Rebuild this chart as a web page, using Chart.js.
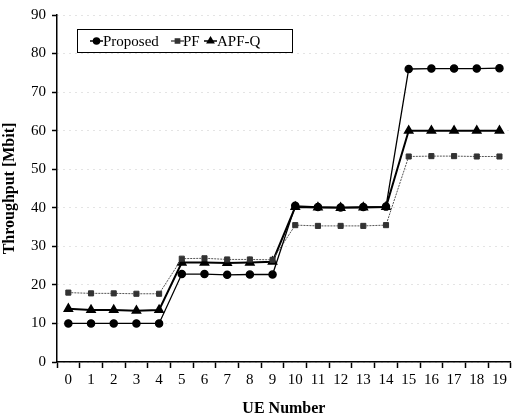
<!DOCTYPE html>
<html lang="en">
<head>
<meta charset="UTF-8">
<title>Throughput vs UE Number</title>
<script src="https://cdn.jsdelivr.net/npm/chart.js"></script>
<style>
    html, body { margin: 0; padding: 0; background: #fff; }
    #wrap { position: relative; width: 517px; height: 418px; }
</style>
</head>
<body>
<div id="wrap"><canvas id="chart" width="517" height="418"></canvas></div>
<script>
    // datos
    const ueNumbers = ['0','1','2','3','4','5','6','7','8','9','10','11','12','13','14','15','16','17','18','19'];
    const proposed = [10, 10, 10, 10, 10, 22.8, 22.8, 22.6, 22.7, 22.7, 40.5, 40.2, 40.1, 40.2, 40.3, 76, 76.1, 76.1, 76.1, 76.2];
    const pf = [18, 17.8, 17.8, 17.7, 17.7, 26.8, 26.9, 26.6, 26.6, 26.5, 35.5, 35.3, 35.3, 35.3, 35.5, 53.3, 53.4, 53.4, 53.3, 53.3];
    const apfq = [13.8, 13.5, 13.5, 13.3, 13.5, 25.8, 25.8, 25.7, 25.8, 26, 40.2, 40.1, 40, 40.1, 40.2, 60, 60, 60, 60, 60];
    const yTicks = [0, 10, 20, 30, 40, 50, 60, 70, 80, 90];

    const serif = '"Liberation Serif", "DejaVu Serif", serif';

    // leyenda dibujada dentro del area del grafico
    const boxLegend = {
        id: 'boxLegend',
        afterDraw(chart) {
            const ctx = chart.ctx;
            const x0 = 77, y0 = 29, w = 215, h = 23;
            const cy = y0 + h / 2 + 0.5;
            ctx.save();
            ctx.fillStyle = '#fff';
            ctx.fillRect(x0, y0, w, h);
            ctx.strokeStyle = '#000';
            ctx.lineWidth = 1;
            ctx.strokeRect(x0 + 0.5, y0 + 0.5, w, h);
            ctx.font = '15px ' + serif;
            ctx.textBaseline = 'middle';
            const items = [
                { lx: 90, tx: 103, text: 'Proposed', ds: 0 },
                { lx: 171, tx: 183, text: 'PF', ds: 1 },
                { lx: 204, tx: 217, text: 'APF-Q', ds: 2 }
            ];
            items.forEach(it => {
                const ds = chart.data.datasets[it.ds];
                ctx.beginPath();
                ctx.strokeStyle = ds.borderColor;
                ctx.lineWidth = 1.5;
                ctx.setLineDash([]);
                ctx.moveTo(it.lx, cy);
                ctx.lineTo(it.lx + 13, cy);
                ctx.stroke();
                ctx.fillStyle = ds.pointBackgroundColor;
                ctx.strokeStyle = ds.pointBorderColor;
                Chart.helpers.drawPoint(ctx, {
                    pointStyle: ds.pointStyle,
                    radius: ds.pointRadius - 0.6,
                    rotation: 0,
                    borderWidth: 1
                }, it.lx + 6.5, cy);
                ctx.fillStyle = '#000';
                ctx.fillText(it.text, it.tx, cy + 1);
            });
            ctx.restore();
        }
    };

    new Chart(document.getElementById('chart'), {
        type: 'line',
        data: {
            labels: ueNumbers,
            datasets: [
                {
                    label: 'Proposed',
                    data: proposed,
                    borderColor: '#000',
                    borderWidth: 1.3,
                    pointStyle: 'circle',
                    pointRadius: 3.6,
                    pointBackgroundColor: '#000',
                    pointBorderColor: '#000',
                    tension: 0
                },
                {
                    label: 'PF',
                    data: pf,
                    borderColor: '#555',
                    borderWidth: 1,
                    borderDash: [2, 1],
                    pointStyle: 'rect',
                    pointRadius: 3.6,
                    pointBackgroundColor: '#333',
                    pointBorderColor: '#333',
                    tension: 0
                },
                {
                    label: 'APF-Q',
                    data: apfq,
                    borderColor: '#000',
                    borderWidth: 2,
                    pointStyle: 'triangle',
                    pointRadius: 4.2,
                    pointBackgroundColor: '#000',
                    pointBorderColor: '#000',
                    tension: 0
                }
            ]
        },
        options: {
            responsive: false,
            animation: false,
            layout: { padding: { top: 13, right: 0, left: 0, bottom: 0 } },
            plugins: {
                legend: { display: false },
                tooltip: { enabled: false }
            },
            scales: {
                x: {
                    offset: true,
                    grid: {
                        offset: true,
                        drawOnChartArea: false,
                        drawTicks: true,
                        tickLength: 6,
                        tickColor: '#000',
                        tickWidth: 1.5
                    },
                    border: { color: '#000', width: 1.5 },
                    ticks: {
                        color: '#000',
                        font: { family: serif, size: 15 },
                        padding: 3,
                        maxRotation: 0,
                        autoSkip: false
                    },
                    title: {
                        display: true,
                        text: 'UE Number',
                        color: '#000',
                        font: { family: serif, size: 16, weight: 'bold' },
                        padding: { top: 6, bottom: 0 }
                    },
                    afterFit(scale) { scale.height = 56; }
                },
                y: {
                    min: 0,
                    max: 90,
                    afterBuildTicks(scale) { scale.ticks = yTicks.map(v => ({ value: v })); },
                    grid: {
                        color: '#c8c8c8',
                        lineWidth: 1,
                        tickColor: '#000',
                        tickLength: 5,
                        tickWidth: 1.5
                    },
                    border: { color: '#000', width: 1.5, dash: [1, 5] },
                    ticks: {
                        color: '#000',
                        font: { family: serif, size: 15 },
                        padding: 6
                    },
                    title: {
                        display: true,
                        text: 'Throughput [Mbit]',
                        color: '#000',
                        font: { family: serif, size: 16, weight: 'bold' },
                        padding: { top: 0, bottom: 2 }
                    },
                    afterFit(scale) { scale.width = 57; }
                }
            }
        },
        plugins: [boxLegend]
    });
</script>
</body>
</html>
